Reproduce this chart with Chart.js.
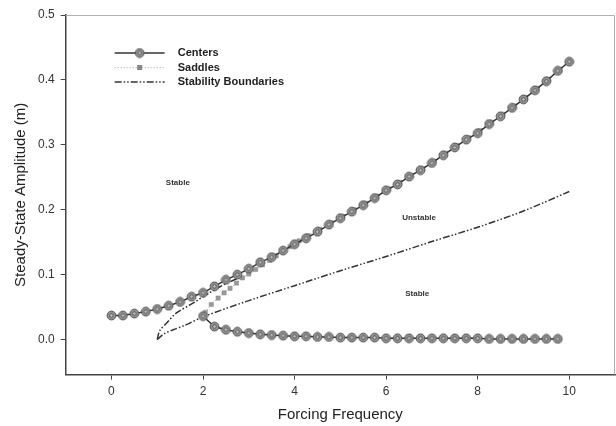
<!DOCTYPE html>
<html>
<head>
<meta charset="utf-8">
<script src="https://cdn.jsdelivr.net/npm/chart.js@4"></script>
<style>
  html, body { margin: 0; padding: 0; background: #fff; overflow: hidden; }
  #wrap { width: 616px; height: 426px; }
</style>
</head>
<body>
<div id="wrap"><canvas id="amp"></canvas></div>
<script>
const xTicks = [0, 2, 4, 6, 8, 10];
const yTicks = [0, 0.1, 0.2, 0.3, 0.4, 0.5];

// upper branch of centers
const centerFreq = [0, 0.25, 0.5, 0.75, 1, 1.25, 1.5, 1.75, 2, 2.25, 2.5, 2.75, 3, 3.25, 3.5, 3.75, 4, 4.25, 4.5, 4.75, 5,
  5.25, 5.5, 5.75, 6, 6.25, 6.5, 6.75, 7, 7.25, 7.5, 7.75, 8, 8.25, 8.5, 8.75, 9, 9.25, 9.5, 9.75, 10];
const centerAmp = [0.037, 0.037, 0.040, 0.043, 0.047, 0.052, 0.058, 0.066, 0.072, 0.082, 0.092, 0.100, 0.109, 0.119, 0.127, 0.137, 0.147, 0.156, 0.166, 0.177, 0.187,
  0.197, 0.207, 0.218, 0.230, 0.239, 0.251, 0.261, 0.272, 0.284, 0.296, 0.308, 0.318, 0.332, 0.344, 0.357, 0.370, 0.384, 0.398, 0.414, 0.428];

// lower branch of centers
const lowerFreq = [2, 2.25, 2.5, 2.75, 3, 3.25, 3.5, 3.75, 4, 4.25, 4.5, 4.75, 5, 5.25, 5.5, 5.75,
  6, 6.25, 6.5, 6.75, 7, 7.25, 7.5, 7.75, 8, 8.25, 8.5, 8.75, 9, 9.25, 9.5, 9.75];
const lowerAmp = [0.036, 0.020, 0.015, 0.012, 0.010, 0.008, 0.007, 0.006, 0.005, 0.005, 0.004, 0.004, 0.003, 0.003, 0.003, 0.003,
  0.002, 0.002, 0.002, 0.002, 0.002, 0.002, 0.002, 0.002, 0.002, 0.001, 0.001, 0.001, 0.001, 0.001, 0.001, 0.001];

const saddleFreq = [2.05, 2.18, 2.33, 2.46, 2.59, 2.73, 2.86, 3.0, 3.15, 3.3, 3.45, 3.6, 3.75, 3.9, 4.1, 4.3, 4.55, 4.8, 5.05, 5.3,
  5.55, 5.8, 6.05, 6.3, 6.55, 6.8, 7.05, 7.3, 7.55, 7.8, 8.05, 8.3, 8.55, 8.8, 9.05, 9.3, 9.55, 9.8];
const saddleAmp = [0.042, 0.054, 0.064, 0.072, 0.079, 0.087, 0.095, 0.101, 0.108, 0.115, 0.122, 0.129, 0.136, 0.143, 0.152, 0.160, 0.170, 0.180, 0.190, 0.200,
  0.210, 0.221, 0.232, 0.242, 0.253, 0.263, 0.275, 0.287, 0.299, 0.311, 0.322, 0.335, 0.347, 0.360, 0.373, 0.387, 0.401, 0.416];

// stability boundaries
const upperBndFreq = [1.0, 1.05, 1.2, 1.42, 1.78, 2.07, 2.36, 2.65, 2.84];
const upperBndAmp = [0.0, 0.013, 0.025, 0.041, 0.056, 0.069, 0.081, 0.091, 0.097];
const lowerBndFreq = [1.0, 1.13, 1.35, 1.64, 2.0, 3, 4, 5, 6, 7, 8, 9, 10];
const lowerBndAmp = [0.0, 0.008, 0.015, 0.023, 0.035, 0.060, 0.083, 0.106, 0.128, 0.151, 0.173, 0.198, 0.228];

const regionLabels = ['Stable', 'Unstable', 'Stable'];
const regionX = [1.45, 6.72, 6.68];
const regionY = [0.241, 0.187, 0.071];

const pts = (xs, ys) => xs.map((x, i) => ({ x: x, y: ys[i] }));

// circle marker used for centers
function centerMark() {
  const c = document.createElement('canvas');
  c.width = 11; c.height = 11;
  const g = c.getContext('2d');
  g.beginPath(); g.arc(5.5, 5.5, 4.4, 0, Math.PI * 2);
  g.fillStyle = '#949494'; g.fill();
  g.lineWidth = 1; g.strokeStyle = '#505050'; g.stroke();
  g.beginPath(); g.arc(5.5, 5.5, 1.8, 0, Math.PI * 2);
  g.fillStyle = '#c4c4c4'; g.fill();
  g.lineWidth = 0.8; g.strokeStyle = '#444'; g.stroke();
  return c;
}
const cMark = centerMark();

const dashDot = [7, 2, 1.5, 2, 1.5, 2];

const legendItems = [
  { text: 'Centers', color: '#333', width: 1.5, dash: [], mark: 'c' },
  { text: 'Saddles', color: '#aaa', width: 1, dash: [1, 2], mark: 's' },
  { text: 'Stability Boundaries', color: '#333', width: 1.5, dash: dashDot, mark: null }
];

const extras = {
  id: 'extras',
  afterDraw(chart) {
    const ctx = chart.ctx, a = chart.chartArea;
    const xs = chart.scales.x, ys = chart.scales.y;
    ctx.save();
    // light frame on top and right
    ctx.strokeStyle = '#b0b0b0'; ctx.lineWidth = 1;
    ctx.beginPath();
    ctx.moveTo(a.left, a.top + 0.5); ctx.lineTo(a.right - 0.5, a.top + 0.5); ctx.lineTo(a.right - 0.5, a.bottom);
    ctx.stroke();

    // region labels
    ctx.font = 'bold 8px Arial, "Liberation Sans"';
    ctx.fillStyle = '#333'; ctx.textAlign = 'center'; ctx.textBaseline = 'middle';
    regionLabels.forEach((t, i) => ctx.fillText(t, xs.getPixelForValue(regionX[i]), ys.getPixelForValue(regionY[i])));

    // legend
    const x0 = a.left + 49, x1 = a.left + 99, tx = a.left + 112;
    let y = a.top + 38;
    ctx.font = 'bold 11px Arial, "Liberation Sans"';
    ctx.textAlign = 'left';
    legendItems.forEach(it => {
      ctx.setLineDash(it.dash);
      ctx.strokeStyle = it.color; ctx.lineWidth = it.width;
      ctx.beginPath(); ctx.moveTo(x0, y); ctx.lineTo(x1, y); ctx.stroke();
      ctx.setLineDash([]);
      const mx = (x0 + x1) / 2;
      if (it.mark === 'c') ctx.drawImage(cMark, mx - 5.5, y - 5.5);
      if (it.mark === 's') { ctx.fillStyle = '#888'; ctx.fillRect(mx - 2.5, y - 2.5, 5, 5); }
      ctx.fillStyle = '#222';
      ctx.fillText(it.text, tx, y);
      y += 14.5;
    });
    ctx.restore();
  }
};

new Chart(document.getElementById('amp'), {
  type: 'scatter',
  data: {
    datasets: [
      {
        label: 'Centers',
        data: pts(centerFreq, centerAmp),
        showLine: true, borderColor: '#333', borderWidth: 1.5,
        pointStyle: cMark, pointRadius: 5, order: 0
      },
      {
        label: 'Centers (lower)',
        data: pts(lowerFreq, lowerAmp),
        showLine: true, borderColor: '#333', borderWidth: 1.5,
        pointStyle: cMark, pointRadius: 5, order: 0
      },
      {
        label: 'Saddles',
        data: pts(saddleFreq, saddleAmp),
        showLine: true, borderColor: '#aaa', borderWidth: 1, borderDash: [1, 2],
        pointStyle: 'rect', pointRadius: 3, pointBackgroundColor: '#999', pointBorderColor: '#888', pointBorderWidth: 0.5,
        order: 1
      },
      {
        label: 'Stability Boundaries',
        data: pts(upperBndFreq, upperBndAmp),
        showLine: true, borderColor: '#333', borderWidth: 1.5, borderDash: dashDot,
        pointRadius: 0, tension: 0.3, order: 2
      },
      {
        label: 'Stability Boundaries (lower)',
        data: pts(lowerBndFreq, lowerBndAmp),
        showLine: true, borderColor: '#333', borderWidth: 1.5, borderDash: dashDot,
        pointRadius: 0, tension: 0.3, order: 2
      }
    ]
  },
  options: {
    responsive: true,
    maintainAspectRatio: false,
    animation: false,
    layout: { autoPadding: false, padding: { top: 15, right: 1, left: 12, bottom: 2 } },
    plugins: { legend: { display: false }, tooltip: { enabled: false } },
    scales: {
      x: {
        type: 'linear', min: -1, max: 11,
        afterBuildTicks: s => { s.ticks = xTicks.map(v => ({ value: v })); },
        grid: { drawOnChartArea: false, drawTicks: true, tickLength: 5, tickColor: '#444' },
        border: { color: '#444', width: 1.5 },
        ticks: { color: '#333', font: { family: 'Arial, "Liberation Sans"', size: 12 }, padding: 5, maxRotation: 0 },
        title: { display: true, text: 'Forcing Frequency', color: '#222', font: { family: 'Arial, "Liberation Sans"', size: 15 }, padding: { top: 2, bottom: 0 } }
      },
      y: {
        type: 'linear', min: -0.054, max: 0.5,
        afterBuildTicks: s => { s.ticks = yTicks.map(v => ({ value: v })); },
        grid: { drawOnChartArea: false, drawTicks: true, tickLength: 5, tickColor: '#444' },
        border: { color: '#444', width: 1.5 },
        ticks: { color: '#333', font: { family: 'Arial, "Liberation Sans"', size: 12 }, padding: 6, callback: v => v.toFixed(1) },
        title: { display: true, text: 'Steady-State Amplitude (m)', color: '#222', font: { family: 'Arial, "Liberation Sans"', size: 15 }, padding: { top: 0, bottom: 2 } }
      }
    }
  },
  plugins: [extras]
});
</script>
</body>
</html>
